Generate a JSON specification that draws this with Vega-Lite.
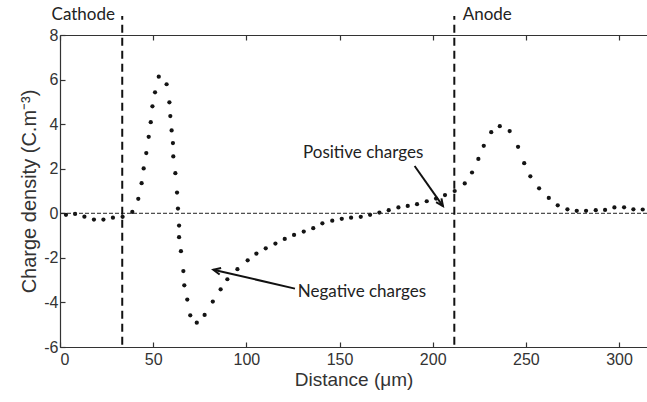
{
  "$schema": "https://vega.github.io/schema/vega-lite/v6.json",
  "width": 587,
  "height": 312,
  "autosize": {"type": "none"},
  "padding": {"left": 60, "top": 35, "right": 0, "bottom": 55},
  "background": "white",
  "config": {
    "view": {"stroke": null},
    "axis": {"grid": false, "domainColor": "#333", "tickColor": "#333", "labelColor": "#333", "titleColor": "#333", "labelFont": "Liberation Sans", "titleFont": "Liberation Sans", "labelFontSize": 16, "titleFontSize": 19, "titleFontWeight": "normal", "domainWidth": 1.2, "tickWidth": 1.2}
  },
  "resolve": {"axis": {"x": "independent", "y": "independent"}},
  "datasets": {
    "dots": [
      {"distance": 3.2, "density": -0.07}, {"distance": 8.1, "density": -0.03}, {"distance": 13.1, "density": -0.15},
      {"distance": 18.2, "density": -0.28}, {"distance": 23.3, "density": -0.28}, {"distance": 28.4, "density": -0.2},
      {"distance": 33.6, "density": -0.16}, {"distance": 38.8, "density": 0.06}, {"distance": 42.0, "density": 0.65},
      {"distance": 43.8, "density": 1.35}, {"distance": 44.9, "density": 2.01}, {"distance": 46.3, "density": 2.7},
      {"distance": 47.6, "density": 3.43}, {"distance": 48.7, "density": 4.09}, {"distance": 49.6, "density": 4.8},
      {"distance": 51.0, "density": 5.43}, {"distance": 53.0, "density": 6.13}, {"distance": 57.2, "density": 5.79},
      {"distance": 58.7, "density": 4.98}, {"distance": 59.2, "density": 4.36}, {"distance": 59.9, "density": 3.72},
      {"distance": 60.6, "density": 3.15}, {"distance": 60.8, "density": 2.55}, {"distance": 61.9, "density": 1.8},
      {"distance": 62.8, "density": 0.93}, {"distance": 63.3, "density": 0.21}, {"distance": 63.9, "density": -0.55},
      {"distance": 63.9, "density": -1.07}, {"distance": 64.9, "density": -1.7}, {"distance": 66.2, "density": -2.59},
      {"distance": 66.7, "density": -3.23}, {"distance": 68.3, "density": -3.87}, {"distance": 69.9, "density": -4.58},
      {"distance": 73.4, "density": -4.91}, {"distance": 77.6, "density": -4.56}, {"distance": 82.0, "density": -3.96},
      {"distance": 86.2, "density": -3.41}, {"distance": 89.8, "density": -2.96}, {"distance": 95.2, "density": -2.51},
      {"distance": 100.7, "density": -2.11}, {"distance": 105.4, "density": -1.81}, {"distance": 110.4, "density": -1.57},
      {"distance": 115.6, "density": -1.36}, {"distance": 120.6, "density": -1.15}, {"distance": 125.6, "density": -0.97},
      {"distance": 130.8, "density": -0.82}, {"distance": 135.9, "density": -0.67}, {"distance": 140.8, "density": -0.45},
      {"distance": 146.1, "density": -0.33}, {"distance": 151.2, "density": -0.25}, {"distance": 156.2, "density": -0.2},
      {"distance": 161.4, "density": -0.16}, {"distance": 166.4, "density": -0.07}, {"distance": 171.4, "density": 0.03},
      {"distance": 176.4, "density": 0.14}, {"distance": 181.6, "density": 0.26}, {"distance": 186.6, "density": 0.33},
      {"distance": 191.6, "density": 0.41}, {"distance": 196.8, "density": 0.54}, {"distance": 201.8, "density": 0.66},
      {"distance": 206.6, "density": 0.82}, {"distance": 211.8, "density": 1.0}, {"distance": 217.2, "density": 1.34},
      {"distance": 221.1, "density": 1.83}, {"distance": 224.5, "density": 2.44}, {"distance": 227.4, "density": 3.03},
      {"distance": 231.4, "density": 3.64}, {"distance": 236.0, "density": 3.91}, {"distance": 241.3, "density": 3.69},
      {"distance": 245.8, "density": 2.98}, {"distance": 249.1, "density": 2.25}, {"distance": 252.4, "density": 1.66},
      {"distance": 257.1, "density": 1.12}, {"distance": 262.3, "density": 0.69}, {"distance": 267.1, "density": 0.36},
      {"distance": 272.3, "density": 0.18}, {"distance": 277.3, "density": 0.11}, {"distance": 282.3, "density": 0.11},
      {"distance": 287.5, "density": 0.14}, {"distance": 292.5, "density": 0.15}, {"distance": 297.5, "density": 0.26},
      {"distance": 302.7, "density": 0.27}, {"distance": 307.7, "density": 0.18}, {"distance": 312.7, "density": 0.17}
    ],
    "zero": [{"density": 0}],
    "electrodes": [
      {"name": "Cathode", "distance": 33.4, "low": -5.9, "high": 8.85},
      {"name": "Anode", "distance": 211.6, "low": -5.9, "high": 8.85}
    ],
    "electrodeLabels": [
      {"label": "Cathode", "distance": 29.5, "density": 8.9, "side": "right"},
      {"label": "Anode", "distance": 216.1, "density": 8.9, "side": "left"}
    ],
    "arrows": [
      {"arrow": "positive", "distance": 190.3, "density": 2.12},
      {"arrow": "positive", "distance": 205.5, "density": 0.32},
      {"arrow": "negative", "distance": 126.1, "density": -3.38},
      {"arrow": "negative", "distance": 82.3, "density": -2.53}
    ],
    "notes": [
      {"label": "Positive charges", "distance": 130.4, "density": 2.7},
      {"label": "Negative charges", "distance": 127.6, "density": -3.53}
    ],
    "posTip": [{"distance": 205.5, "density": 0.32}],
    "negTip": [{"distance": 82.3, "density": -2.53}]
  },
  "layer": [
    {
      "data": {"name": "dots"},
      "mark": {"type": "point", "filled": true, "size": 18, "color": "#141414", "opacity": 1},
      "encoding": {
        "x": {"field": "distance", "type": "quantitative", "title": "Distance (μm)", "scale": {"domain": [0, 315], "nice": false, "zero": false},
          "axis": {"orient": "bottom", "values": [0, 50, 100, 150, 200, 250, 300], "tickSize": -5, "labelPadding": 9, "titlePadding": 3}},
        "y": {"field": "density", "type": "quantitative", "title": "Charge density (C.m⁻³)", "scale": {"domain": [-6, 8], "nice": false, "zero": false},
          "axis": {"values": [-6, -4, -2, 0, 2, 4, 6, 8], "tickSize": -5, "labelPadding": 7, "titlePadding": 4, "titleFontSize": 20,
            "labelExpr": "datum.value < 0 ? '-' + abs(datum.value) : '' + datum.value"}}
      }
    },
    {
      "data": {"name": "dots"},
      "mark": {"type": "point", "opacity": 0},
      "encoding": {
        "x": {"field": "distance", "type": "quantitative", "scale": {"domain": [0, 315], "nice": false, "zero": false}, "axis": {"orient": "top", "values": [0, 50, 100, 150, 200, 250, 300], "labels": false, "tickSize": -5, "title": null}},
        "y": {"field": "density", "type": "quantitative", "scale": {"domain": [-6, 8], "nice": false, "zero": false}, "axis": null}
      }
    },
    {
      "data": {"name": "zero"},
      "mark": {"type": "rule", "strokeDash": [4, 2], "strokeWidth": 1, "color": "#222"},
      "encoding": {"y": {"field": "density", "type": "quantitative", "scale": {"domain": [-6, 8], "nice": false, "zero": false}, "axis": null}}
    },
    {
      "data": {"name": "electrodes"},
      "mark": {"type": "rule", "strokeDash": [8, 5], "strokeWidth": 2, "color": "#111"},
      "encoding": {
        "x": {"field": "distance", "type": "quantitative", "scale": {"domain": [0, 315], "nice": false, "zero": false}, "axis": null},
        "y": {"field": "low", "type": "quantitative", "scale": {"domain": [-6, 8], "nice": false, "zero": false}, "axis": null},
        "y2": {"field": "high"}
      }
    },
    {
      "data": {"name": "electrodeLabels"},
      "transform": [{"filter": "datum.side === 'right'"}],
      "mark": {"type": "text", "align": "right", "baseline": "middle", "font": "Lato", "fontSize": 17, "color": "#222"},
      "encoding": {
        "x": {"field": "distance", "type": "quantitative", "axis": null},
        "y": {"field": "density", "type": "quantitative", "axis": null},
        "text": {"field": "label"}
      }
    },
    {
      "data": {"name": "electrodeLabels"},
      "transform": [{"filter": "datum.side === 'left'"}],
      "mark": {"type": "text", "align": "left", "baseline": "middle", "font": "Lato", "fontSize": 17, "color": "#222"},
      "encoding": {
        "x": {"field": "distance", "type": "quantitative", "axis": null},
        "y": {"field": "density", "type": "quantitative", "axis": null},
        "text": {"field": "label"}
      }
    },
    {
      "data": {"name": "notes"},
      "mark": {"type": "text", "align": "left", "baseline": "middle", "font": "Lato", "fontSize": 17, "color": "#222"},
      "encoding": {
        "x": {"field": "distance", "type": "quantitative", "axis": null},
        "y": {"field": "density", "type": "quantitative", "axis": null},
        "text": {"field": "label"}
      }
    },
    {
      "data": {"name": "arrows"},
      "mark": {"type": "line", "strokeWidth": 2, "color": "#111"},
      "encoding": {
        "x": {"field": "distance", "type": "quantitative", "axis": null},
        "y": {"field": "density", "type": "quantitative", "axis": null},
        "detail": {"field": "arrow"}
      }
    },
    {
      "data": {"name": "posTip"},
      "mark": {"type": "point", "filled": false, "shape": "M-0.55,1.2L0,0L0.55,1.2", "size": 144, "strokeWidth": 2, "color": "#111", "opacity": 1, "angle": 144.5},
      "encoding": {
        "x": {"field": "distance", "type": "quantitative", "axis": null},
        "y": {"field": "density", "type": "quantitative", "axis": null}
      }
    },
    {
      "data": {"name": "negTip"},
      "mark": {"type": "point", "filled": false, "shape": "M-0.55,1.2L0,0L0.55,1.2", "size": 144, "strokeWidth": 2, "color": "#111", "opacity": 1, "angle": 283},
      "encoding": {
        "x": {"field": "distance", "type": "quantitative", "axis": null},
        "y": {"field": "density", "type": "quantitative", "axis": null}
      }
    }
  ]
}
